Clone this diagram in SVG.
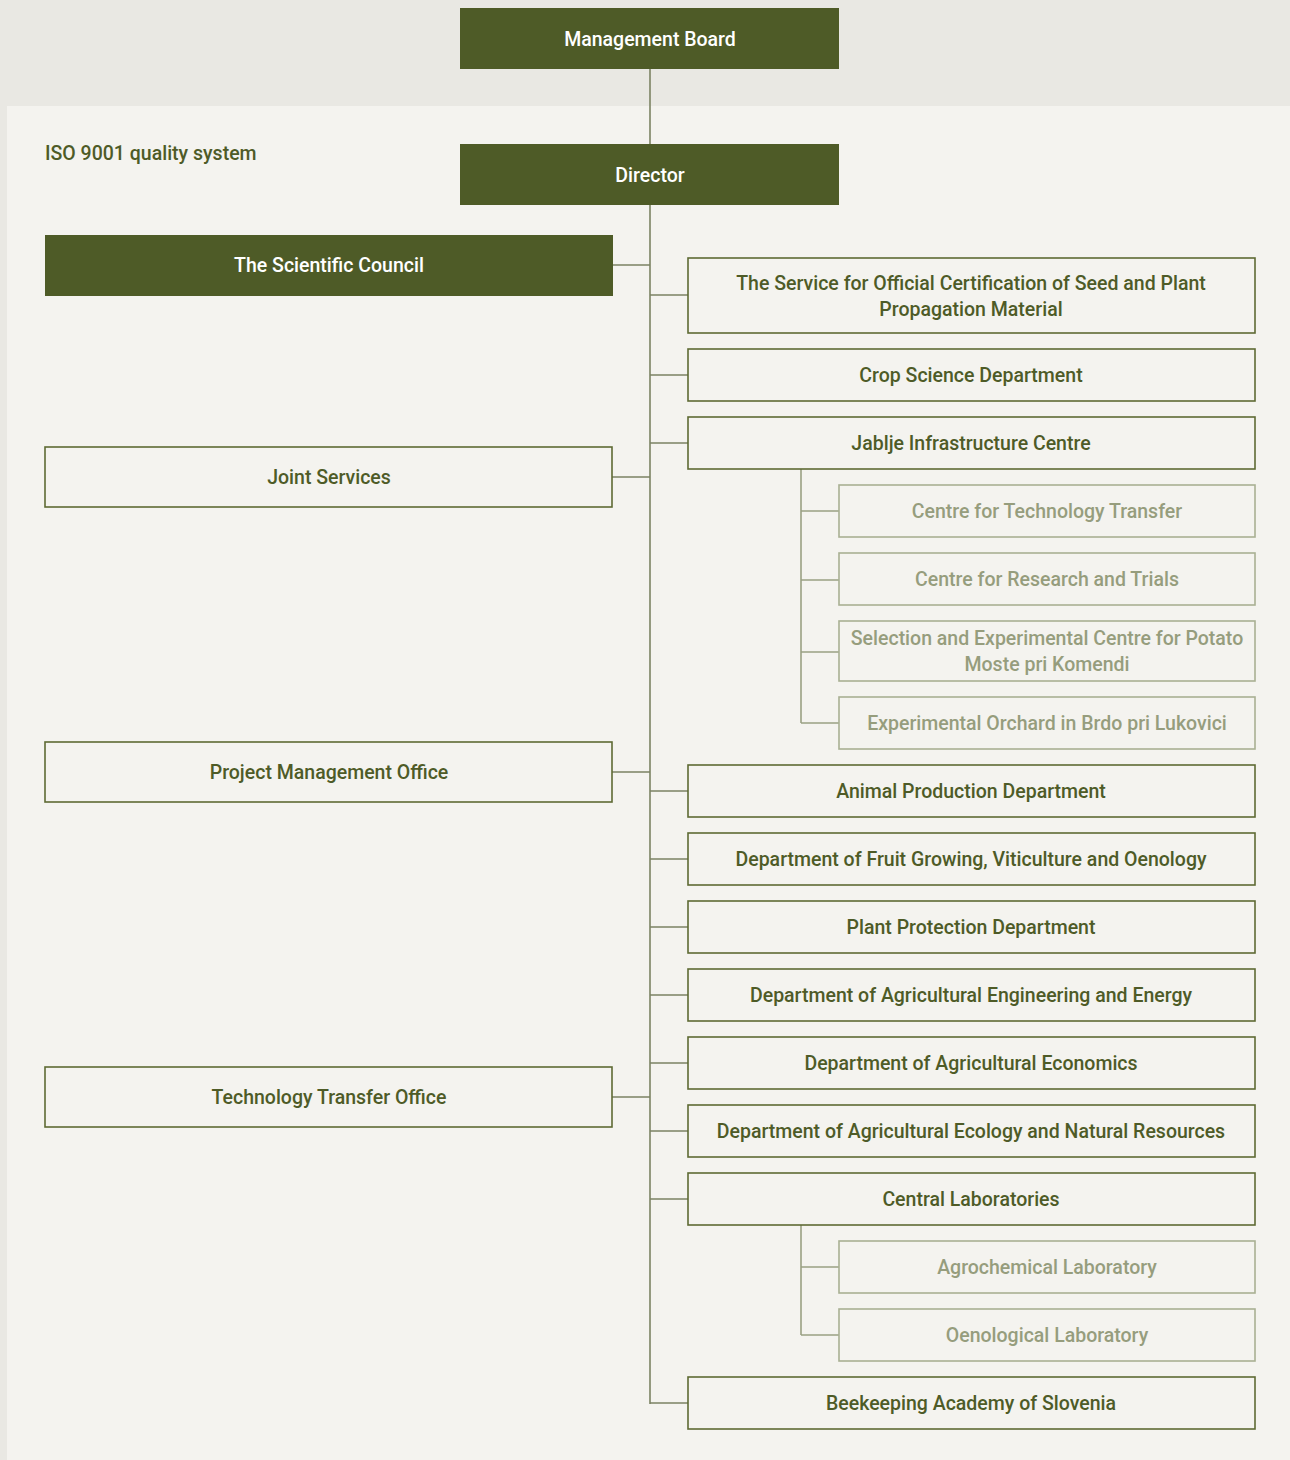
<svg xmlns="http://www.w3.org/2000/svg" width="1290" height="1460" viewBox="0 0 1290 1460">
<style>
.dark{fill:#4e5b27}
.box{fill:none;stroke:#5e6a34;stroke-width:1.6}
.sub{fill:none;stroke:#a9b093;stroke-width:1.6}
.t{font-family:Roboto,"Liberation Sans",sans-serif;font-weight:500;font-size:19.5px;text-anchor:middle;dominant-baseline:central}
.tw{fill:#ffffff}
.tg{fill:#4e5b27}
.ts{fill:#969d7d}
.conn line{stroke:#7b8263;stroke-width:1.6;fill:none}
.conn .s{stroke:#9aa083}
</style>
<rect x="0" y="0" width="1290" height="1460" fill="#e9e8e3"/>
<rect x="7" y="106" width="1283" height="1354" fill="#f4f3ef"/>
<text class="t tg" x="45" y="153" style="text-anchor:start">ISO 9001 quality system</text>
<g class="conn">
<line x1="650" y1="69" x2="650" y2="1404"/>
<line x1="613" y1="265" x2="650" y2="265"/>
<line x1="612" y1="477" x2="650" y2="477"/>
<line x1="612" y1="772" x2="650" y2="772"/>
<line x1="612" y1="1097" x2="650" y2="1097"/>
<line x1="650" y1="295" x2="688" y2="295"/>
<line x1="650" y1="375" x2="688" y2="375"/>
<line x1="650" y1="443" x2="688" y2="443"/>
<line x1="650" y1="791" x2="688" y2="791"/>
<line x1="650" y1="859" x2="688" y2="859"/>
<line x1="650" y1="927" x2="688" y2="927"/>
<line x1="650" y1="995" x2="688" y2="995"/>
<line x1="650" y1="1063" x2="688" y2="1063"/>
<line x1="650" y1="1131" x2="688" y2="1131"/>
<line x1="650" y1="1199" x2="688" y2="1199"/>
<line x1="650" y1="1403" x2="688" y2="1403"/>
<line class="s" x1="801" y1="469" x2="801" y2="723"/>
<line class="s" x1="801" y1="511" x2="839" y2="511"/>
<line class="s" x1="801" y1="580" x2="839" y2="580"/>
<line class="s" x1="801" y1="652" x2="839" y2="652"/>
<line class="s" x1="801" y1="723" x2="839" y2="723"/>
<line class="s" x1="801" y1="1225" x2="801" y2="1335"/>
<line class="s" x1="801" y1="1267" x2="839" y2="1267"/>
<line class="s" x1="801" y1="1335" x2="839" y2="1335"/>
</g>
<g id="management-board"><rect class="dark" x="460" y="8" width="379" height="61"/><text class="t tw" x="650" y="39.5">Management Board</text></g>
<g id="director"><rect class="dark" x="460" y="144" width="379" height="61"/><text class="t tw" x="650" y="175.5">Director</text></g>
<g id="scientific-council"><rect class="dark" x="45" y="235" width="568" height="61"/><text class="t tw" x="329" y="265.5">The Scientific Council</text></g>
<g id="joint-services"><rect class="box" x="45" y="447" width="567" height="60"/><text class="t tg" x="329" y="477.5">Joint Services</text></g>
<g id="pmo"><rect class="box" x="45" y="742" width="567" height="60"/><text class="t tg" x="329" y="772.5">Project Management Office</text></g>
<g id="tto"><rect class="box" x="45" y="1067" width="567" height="60"/><text class="t tg" x="329" y="1097.5">Technology Transfer Office</text></g>
<g id="certification"><rect class="box" x="688" y="258" width="567" height="75"/><text class="t tg" x="971" y="283.5">The Service for Official Certification of Seed and Plant</text><text class="t tg" x="971" y="309.5">Propagation Material</text></g>
<g id="crop"><rect class="box" x="688" y="349" width="567" height="52"/><text class="t tg" x="971" y="375.5">Crop Science Department</text></g>
<g id="jablje"><rect class="box" x="688" y="417" width="567" height="52"/><text class="t tg" x="971" y="443.5">Jablje Infrastructure Centre</text></g>
<g id="ctt"><rect class="sub" x="839" y="485" width="416" height="52"/><text class="t ts" x="1047" y="511.5">Centre for Technology Transfer</text></g>
<g id="crt"><rect class="sub" x="839" y="553" width="416" height="52"/><text class="t ts" x="1047" y="579.5">Centre for Research and Trials</text></g>
<g id="potato"><rect class="sub" x="839" y="621" width="416" height="60"/><text class="t ts" x="1047" y="638.5">Selection and Experimental Centre for Potato</text><text class="t ts" x="1047" y="664.5">Moste pri Komendi</text></g>
<g id="orchard"><rect class="sub" x="839" y="697" width="416" height="52"/><text class="t ts" x="1047" y="723.5">Experimental Orchard in Brdo pri Lukovici</text></g>
<g id="animal"><rect class="box" x="688" y="765" width="567" height="52"/><text class="t tg" x="971" y="791.5">Animal Production Department</text></g>
<g id="fruit"><rect class="box" x="688" y="833" width="567" height="52"/><text class="t tg" x="971" y="859.5">Department of Fruit Growing, Viticulture and Oenology</text></g>
<g id="plant"><rect class="box" x="688" y="901" width="567" height="52"/><text class="t tg" x="971" y="927.5">Plant Protection Department</text></g>
<g id="engineering"><rect class="box" x="688" y="969" width="567" height="52"/><text class="t tg" x="971" y="995.5">Department of Agricultural Engineering and Energy</text></g>
<g id="economics"><rect class="box" x="688" y="1037" width="567" height="52"/><text class="t tg" x="971" y="1063.5">Department of Agricultural Economics</text></g>
<g id="ecology"><rect class="box" x="688" y="1105" width="567" height="52"/><text class="t tg" x="971" y="1131.5">Department of Agricultural Ecology and Natural Resources</text></g>
<g id="central-labs"><rect class="box" x="688" y="1173" width="567" height="52"/><text class="t tg" x="971" y="1199.5">Central Laboratories</text></g>
<g id="agro"><rect class="sub" x="839" y="1241" width="416" height="52"/><text class="t ts" x="1047" y="1267.5">Agrochemical Laboratory</text></g>
<g id="oeno"><rect class="sub" x="839" y="1309" width="416" height="52"/><text class="t ts" x="1047" y="1335.5">Oenological Laboratory</text></g>
<g id="beekeeping"><rect class="box" x="688" y="1377" width="567" height="52"/><text class="t tg" x="971" y="1403.5">Beekeeping Academy of Slovenia</text></g>
</svg>
